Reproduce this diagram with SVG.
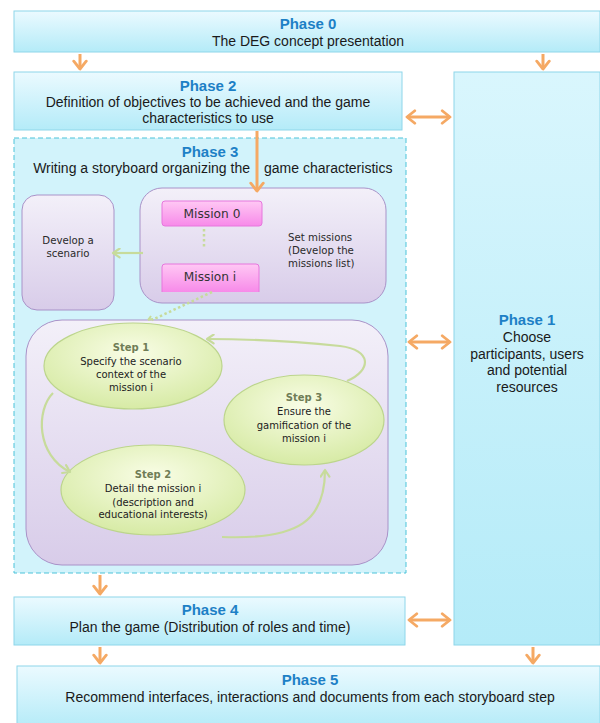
<svg xmlns="http://www.w3.org/2000/svg" width="600" height="723" viewBox="0 0 600 723">
<defs>
<linearGradient id="cyan" x1="0" y1="0" x2="0" y2="1"><stop offset="0" stop-color="#ebfaff"/><stop offset="1" stop-color="#b4ebf8"/></linearGradient>
<linearGradient id="cyan2" x1="0" y1="0" x2="0" y2="1"><stop offset="0" stop-color="#d9f6fd"/><stop offset="1" stop-color="#b4ebf8"/></linearGradient>
<linearGradient id="purp" x1="0" y1="0" x2="0" y2="1"><stop offset="0" stop-color="#f3f0f9"/><stop offset="1" stop-color="#d8cce9"/></linearGradient>
<linearGradient id="pink" x1="0" y1="0" x2="0" y2="1"><stop offset="0" stop-color="#ffc8f4"/><stop offset="1" stop-color="#f78ae9"/></linearGradient>
<radialGradient id="green" cx="0.5" cy="0.35" r="0.7"><stop offset="0" stop-color="#f9fde6"/><stop offset="1" stop-color="#d4e9a0"/></radialGradient>
<marker id="ogh" viewBox="0 0 10 10" refX="7" refY="5" markerWidth="5.2" markerHeight="5.2" orient="auto-start-reverse" markerUnits="strokeWidth">
<path d="M2,1 L7,5 L2,9" fill="none" stroke="#f5a964" stroke-width="1.8" stroke-linecap="round" stroke-linejoin="round"/>
</marker>
<marker id="gh" viewBox="0 0 10 10" refX="7" refY="5" markerWidth="5" markerHeight="5" orient="auto" markerUnits="strokeWidth">
<path d="M1,1 L7,5 L1,9" fill="none" stroke="#c7db9b" stroke-width="2" stroke-linecap="round" stroke-linejoin="round"/>
</marker>
</defs>
<style>
.box{fill:url(#cyan);stroke:#8ed6ea;stroke-width:1}
.ph{font-family:"Liberation Sans",Arial,sans-serif;font-size:15px;font-weight:bold;fill:#1d80c6;text-anchor:middle}
.tx{font-family:"Liberation Sans",Arial,sans-serif;font-size:14px;fill:#1a1a1a;text-anchor:middle}
.pb{fill:url(#purp);stroke:#a992c8;stroke-width:1}
.sm{font-family:"DejaVu Sans",Verdana,sans-serif;font-size:10.2px;fill:#2a2a2a}
.mi{fill:url(#pink);stroke:#e676dd;stroke-width:1}
.mt{font-family:"DejaVu Sans",Verdana,sans-serif;font-size:12.2px;fill:#333;text-anchor:middle}
.el{fill:url(#green);stroke:#bcd58c;stroke-width:1.2}
.st{font-family:"DejaVu Sans",Verdana,sans-serif;font-size:10px;fill:#222;text-anchor:middle}
.sh{font-family:"DejaVu Sans",Verdana,sans-serif;font-size:10px;font-weight:bold;fill:#6f7d56;text-anchor:middle}
.oa{fill:none;stroke:#f5a964;stroke-width:3;marker-end:url(#ogh)}
.od{fill:none;stroke:#f5a964;stroke-width:3;marker-end:url(#ogh);marker-start:url(#ogh)}
.ga{fill:none;stroke:#c7db9b;stroke-width:2.2;marker-end:url(#gh)}
.gd{fill:none;stroke:#c7db9b;stroke-width:2.5;stroke-dasharray:2.5 2.5}
</style>

<g id="phase0">
<rect class="box" x="14" y="11" width="586" height="41"/>
<text class="ph" x="308" y="29">Phase 0</text>
<text class="tx" x="308" y="46">The DEG concept presentation</text>
</g>

<g id="phase1">
<rect x="454" y="72" width="146" height="573" fill="url(#cyan2)" stroke="#8ed6ea"/>
<text class="ph" x="527" y="325">Phase 1</text>
<text class="tx" x="527" y="342">Choose</text>
<text class="tx" x="527" y="359">participants, users</text>
<text class="tx" x="527" y="375">and potential</text>
<text class="tx" x="527" y="392">resources</text>
</g>

<g id="phase2">
<rect class="box" x="14" y="72" width="388" height="58"/>
<text class="ph" x="208" y="91">Phase 2</text>
<text class="tx" x="208" y="107">Definition of objectives to be achieved and the game</text>
<text class="tx" x="208" y="123">characteristics to use</text>
</g>

<g id="phase3">
<rect x="14" y="138" width="392" height="435" fill="#d2f3fb" stroke="#4cc3d9" stroke-width="1" stroke-dasharray="5 3"/>
<text class="ph" x="210" y="157">Phase 3</text>
<text class="tx" x="250" y="173" style="text-anchor:end">Writing a storyboard organizing the</text>
<text class="tx" x="264" y="173" style="text-anchor:start">game characteristics</text>
</g>

<g id="scenario">
<rect class="pb" x="22" y="195" width="92" height="115" rx="15"/>
<text class="sm" x="68" y="244" text-anchor="middle">Develop a</text>
<text class="sm" x="68" y="257" text-anchor="middle">scenario</text>
</g>

<g id="missions">
<rect class="pb" x="140" y="188" width="246" height="115" rx="22"/>
<text class="sm" x="288" y="241">Set missions</text>
<text class="sm" x="288" y="254">(Develop the</text>
<text class="sm" x="288" y="267">missions list)</text>
</g>

<g id="mission0">
<rect class="mi" x="162" y="201" width="100" height="25" rx="3"/>
<text class="mt" x="212" y="218">Mission 0</text>
</g>

<g id="missioni">
<path class="mi" d="M162,292 V267 Q162,264 165,264 H256 Q259,264 259,267 V292"/>
<text class="mt" x="210" y="281">Mission i</text>
</g>

<g id="steps">
<rect class="pb" x="26" y="320" width="362" height="245" rx="36"/>
</g>

<g id="step1">
<ellipse class="el" cx="133" cy="366" rx="89" ry="43"/>
<text class="sh" x="131" y="351">Step 1</text>
<text class="st" x="131" y="365">Specify the scenario</text>
<text class="st" x="131" y="378">context of the</text>
<text class="st" x="131" y="391">mission i</text>
</g>

<g id="step3">
<ellipse class="el" cx="304" cy="420" rx="80" ry="45"/>
<text class="sh" x="304" y="401">Step 3</text>
<text class="st" x="304" y="415">Ensure the</text>
<text class="st" x="304" y="429">gamification of the</text>
<text class="st" x="304" y="442">mission i</text>
</g>

<g id="step2">
<ellipse class="el" cx="153" cy="490" rx="92" ry="45"/>
<text class="sh" x="153" y="478">Step 2</text>
<text class="st" x="153" y="492">Detail the mission i</text>
<text class="st" x="153" y="506">(description and</text>
<text class="st" x="153" y="518">educational interests)</text>
</g>

<g id="phase4">
<rect class="box" x="14" y="597" width="391" height="48"/>
<text class="ph" x="210" y="615">Phase 4</text>
<text class="tx" x="210" y="632">Plan the game (Distribution of roles and time)</text>
</g>

<g id="phase5">
<rect class="box" x="17" y="666" width="583" height="62"/>
<text class="ph" x="310" y="685">Phase 5</text>
<text class="tx" x="310" y="702">Recommend interfaces, interactions and documents from each storyboard step</text>
</g>

<g id="connectors">
<path class="oa" d="M80,54 V69"/>
<path class="oa" d="M543,54 V69"/>
<path class="od" d="M407,117 H450"/>
<path class="oa" d="M257,131 V191"/>
<path class="od" d="M409,342 H450"/>
<path class="oa" d="M100,575 V594"/>
<path class="od" d="M409,620 H450"/>
<path class="oa" d="M100,647 V663"/>
<path class="oa" d="M533,647 V663"/>
<path class="gd" d="M204,229 V248"/>
<path class="ga" d="M143,253 H113"/>
<path class="gd" d="M212,292 L152,320"/>
<path fill="none" stroke="#c7db9b" stroke-width="2" d="M148,320 l5,-1 M148,320 l3,-4"/>
<path class="ga" d="M53,393 C36,410 36,455 70,472"/>
<path class="ga" d="M222,537 C300,540 325,520 325,470"/>
<path class="ga" d="M347,381 C372,370 372,350 340,346 C290,341 250,339 207,339"/>
</g>
</svg>
